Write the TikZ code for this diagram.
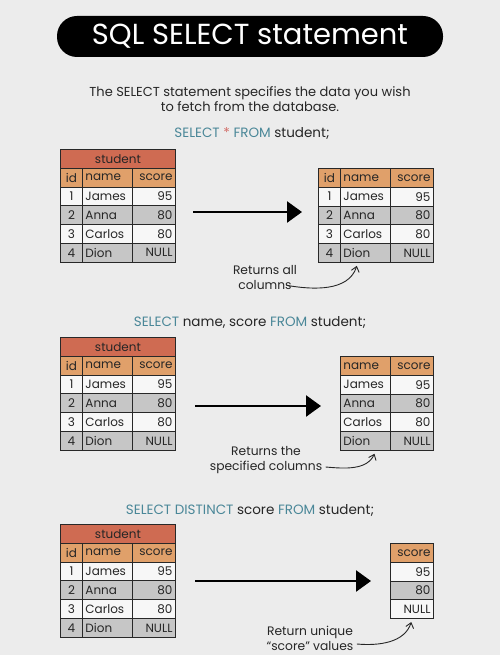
\documentclass[tikz,border=0pt]{standalone}
\usepackage{fontspec}
\setmainfont{Poppins}
\usetikzlibrary{positioning,arrows.meta,calc,bending}
\definecolor{sqlbg}{RGB}{236,236,236}
\definecolor{sqltitle}{RGB}{207,107,82}
\definecolor{sqlhead}{RGB}{224,160,106}
\definecolor{sqlwhite}{RGB}{247,247,247}
\definecolor{sqlgray}{RGB}{198,198,198}
\definecolor{sqlline}{RGB}{40,40,40}
\definecolor{sqlkey}{RGB}{74,135,152}
\definecolor{sqlstar}{RGB}{211,111,106}
\tikzset{
  sq/.style={font=\fontsize{12}{14}\selectfont, text=black!85},
  sqcell/.style={
    sq, draw=sqlline, line width=0.9pt, anchor=north west,
    minimum height=18.8pt, inner xsep=3pt, inner ysep=0pt
  },
  sqid/.style={sqcell, text width=16pt, align=center},
  sqname/.style={sqcell, text width=44pt, align=left},
  sqscore/.style={sqcell, text width=37pt, align=right},
  sqtop/.style={sqcell, fill=sqltitle, minimum width=115pt, align=center},
  sqpill/.style={
    fill=black, text=white, rounded corners=20pt, minimum width=386pt,
    minimum height=41pt, font=\fontsize{29}{32}\selectfont
  },
  sqtext/.style={sq, font=\fontsize{13}{15}\selectfont, align=center},
  sqcode/.style={sq, font=\fontsize{13.5}{16}\selectfont},
  sqnote/.style={sq, font=\fontsize{12.3}{15}\selectfont, align=center, inner ysep=1pt},
  sqarr/.style={-{Triangle[length=15pt,width=21pt]}, line width=2.6pt, draw=black},
  sqcurve/.style={-{Straight Barb[length=5pt,width=8pt]}, line width=0.9pt, draw=black!85},
}
\newcommand{\sqlkw}[1]{\textcolor{sqlkey}{#1}}
\newcommand{\sqlsource}[3]{%
  \node[sqtop] (#1-top) at (#2,#3) {student};
  \node[sqid, fill=sqlhead] (#1-hid) at (#2,#3+18.8) {id};
  \node[sqname, fill=sqlhead] (#1-hname) at (#2+22,#3+18.8) {name};
  \node[sqscore, fill=sqlhead] (#1-hscore) at (#2+72,#3+18.8) {score};
  \foreach \i/\n/\s/\f [count=\r] in
    {1/James/95/sqlwhite, 2/Anna/80/sqlgray, 3/Carlos/80/sqlwhite, 4/Dion/NULL/sqlgray}{
    \node[sqid, fill=\f] (#1-id-\r) at (#2,#3+18.8+18.8*\r) {\i};
    \node[sqname, fill=\f] (#1-name-\r) at (#2+22,#3+18.8+18.8*\r) {\n};
    \node[sqscore, fill=\f] (#1-score-\r) at (#2+72,#3+18.8+18.8*\r) {\s};
  }%
}

\begin{document}
\begin{tikzpicture}[x=1pt, y=-1pt, sq]
  \useasboundingbox[fill=sqlbg] (0,0) rectangle (500,655);

  \node[sqpill] (title) at (250,36.5) {SQL SELECT statement};
  \node[sqtext] (intro) at (250,99)
    {The SELECT statement specifies the data you wish\\to fetch from the database.};

  \node[sqcode] (q1) at (252,133)
    {\sqlkw{SELECT} \textcolor{sqlstar}{*} \sqlkw{FROM} student;};
  \sqlsource{a1}{60}{149}
  \node[sqid, fill=sqlhead] (b1-hid) at (318,168) {id};
  \node[sqname, fill=sqlhead] (b1-hname) at (340,168) {name};
  \node[sqscore, fill=sqlhead] (b1-hscore) at (390,168) {score};
  \foreach \i/\n/\s/\f [count=\r] in
    {1/James/95/sqlwhite, 2/Anna/80/sqlgray, 3/Carlos/80/sqlwhite, 4/Dion/NULL/sqlgray}{
    \node[sqid, fill=\f] (b1-id-\r) at (318,168+18.8*\r) {\i};
    \node[sqname, fill=\f] (b1-name-\r) at (340,168+18.8*\r) {\n};
    \node[sqscore, fill=\f] (b1-score-\r) at (390,168+18.8*\r) {\s};
  }
  \coordinate (arr1s) at (193,212);
  \coordinate (arr1e) at (302,212);
  \draw[sqarr] (arr1s) -- (arr1e);
  \node[sqnote] (n1) at (265,278) {Returns all\\columns};
  \draw[sqcurve, shorten >=3pt] ([xshift=-14pt,yshift=6pt]n1.south east)
    to[out=-10, in=-100] ([xshift=-8pt]b1-name-4.south);

  \node[sqcode] (q2) at (250,322)
    {\sqlkw{SELECT} name, score \sqlkw{FROM} student;};
  \sqlsource{a2}{60}{337}
  \node[sqname, fill=sqlhead] (b2-hname) at (340,356) {name};
  \node[sqscore, fill=sqlhead] (b2-hscore) at (390,356) {score};
  \foreach \n/\s/\f [count=\r] in
    {James/95/sqlwhite, Anna/80/sqlgray, Carlos/80/sqlwhite, Dion/NULL/sqlgray}{
    \node[sqname, fill=\f] (b2-name-\r) at (340,356+18.8*\r) {\n};
    \node[sqscore, fill=\f] (b2-score-\r) at (390,356+18.8*\r) {\s};
  }
  \coordinate (arr2s) at (195,406);
  \coordinate (arr2e) at (321,406);
  \draw[sqarr] (arr2s) -- (arr2e);
  \node[sqnote] (n2) at (266,460) {Returns the\\specified columns};
  \draw[sqcurve, shorten >=3pt] ([yshift=-7pt]n2.east)
    to[out=-5, in=-105] ([xshift=10pt]b2-name-4.south);

  \node[sqcode] (q3) at (250,510)
    {\sqlkw{SELECT DISTINCT} score \sqlkw{FROM} student;};
  \sqlsource{a3}{60}{524}
  \node[sqscore, fill=sqlhead] (b3-hscore) at (390,543) {score};
  \foreach \s/\f [count=\r] in {95/sqlwhite, 80/sqlgray, NULL/sqlwhite}{
    \node[sqscore, fill=\f] (b3-score-\r) at (390,543+18.8*\r) {\s};
  }
  \coordinate (arr3s) at (195,581);
  \coordinate (arr3e) at (371,581);
  \draw[sqarr] (arr3s) -- (arr3e);
  \node[sqnote] (n3) at (310,638) {Return unique\\“score” values};
  \draw[sqcurve, shorten >=3pt] ([yshift=-6pt]n3.east)
    to[out=-5, in=-100] (b3-score-3.south);
\end{tikzpicture}
\end{document}
